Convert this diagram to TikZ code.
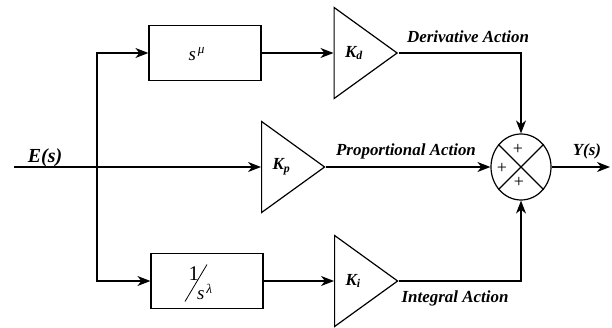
\documentclass[tikz,border=0pt]{standalone}
\usepackage{fontspec}
\setmainfont{Liberation Serif}
\usetikzlibrary{arrows.meta}
\usetikzlibrary{positioning}
\usetikzlibrary{shapes.geometric}

\begin{document}
\begin{tikzpicture}[
		x=1bp,y=1bp,
		line width=1.2bp,
		>={Stealth[length=13bp,width=10bp,inset=4bp]},
		tf/.style={draw,rectangle,minimum width=112bp,minimum height=55bp,inner sep=0pt},
		tftext/.style={font=\itshape\fontsize{19}{21}\selectfont,inner sep=0pt,anchor=base west},
		gain/.style={draw,isosceles triangle,isosceles triangle stretches,minimum width=91bp,minimum height=63bp,inner sep=0pt,anchor=west},
		gainlbl/.style={font=\bfseries\itshape\fontsize{17}{20}\selectfont,inner sep=0pt,anchor=west},
		sum/.style={draw,ellipse,minimum width=60bp,minimum height=66bp,inner sep=0pt},
		plus/.style={font=\fontsize{18}{18}\selectfont,inner sep=0pt},
		act/.style={font=\bfseries\itshape\fontsize{17}{20}\selectfont,anchor=base,inner sep=0pt},
		sig/.style={font=\bfseries\itshape\fontsize{20}{22}\selectfont,anchor=base,inner sep=0pt}
	]
		\useasboundingbox (0,0) rectangle (612,327);

		\node [tf] (deriv) at (205,274) {};
		\node [tftext] (deriv_tf) at ([shift={(-17,-7)}]deriv.center) {s\kern0.1em\textsuperscript{μ}};
		\node [tf] (integ) at (207,46) {};
		\node [tftext,font=\fontsize{21}{23}\selectfont] (integ_num) at ([shift={(-19,1)}]integ.center) {1};
		\node [tftext] (integ_den) at ([shift={(-10.5,-18.5)}]integ.center) {s\kern0.1em\textsuperscript{λ}};
		\draw [line width=0.8bp] ([shift={(-22,-20.5)}]integ.center) -- ([shift={(0,16.5)}]integ.center);

		\node [gain] (kd) at (333.5,274) {};
		\node [gain] (kp) at (261,160) {};
		\node [gain] (ki) at (334,46) {};
		\node [gainlbl,right=11bp of kd.west] (kd_lbl) {K\textsubscript{d}};
		\node [gainlbl,right=11bp of kp.west] (kp_lbl) {K\textsubscript{p}};
		\node [gainlbl,right=11bp of ki.west] (ki_lbl) {K\textsubscript{i}};

		\node [sum] (sum) at (521,160) {};
		\draw (sum.45) -- (sum.225);
		\draw (sum.135) -- (sum.315);
		\node [plus] (plus_d) at ([shift={(-3,18)}]sum.center) {+};
		\node [plus] (plus_p) at ([shift={(-19,-1)}]sum.center) {+};
		\node [plus] (plus_i) at ([shift={(-2,-15)}]sum.center) {+};

		\coordinate (in) at (14,160);
		\coordinate (split) at (97,160);
		\coordinate (out) at (610,160);

		\draw [->] (in) -- (kp.west);
		\draw [->] (split) |- (deriv.west);
		\draw [->] (split) |- (integ.west);
		\draw [->] (deriv.east) -- (kd.west);
		\draw [->] (integ.east) -- (ki.west);
		\draw [->] (kd.apex) -| (sum.north);
		\draw [->] (kp.apex) -- (sum.west);
		\draw [->] (ki.apex) -| (sum.south);
		\draw [->] (sum.east) -- (out);

		\node [act] (d_act) at (468,285) {Derivative Action};
		\node [act] (p_act) at (406,172) {Proportional Action};
		\node [act] (i_act) at (455,25) {Integral Action};
		\node [sig] (e_sig) at (45,165) {E(s)};
		\node [sig,font=\bfseries\itshape\fontsize{17}{20}\selectfont] (y_sig) at (587,172) {Y(s)};
	\end{tikzpicture}
\end{document}
